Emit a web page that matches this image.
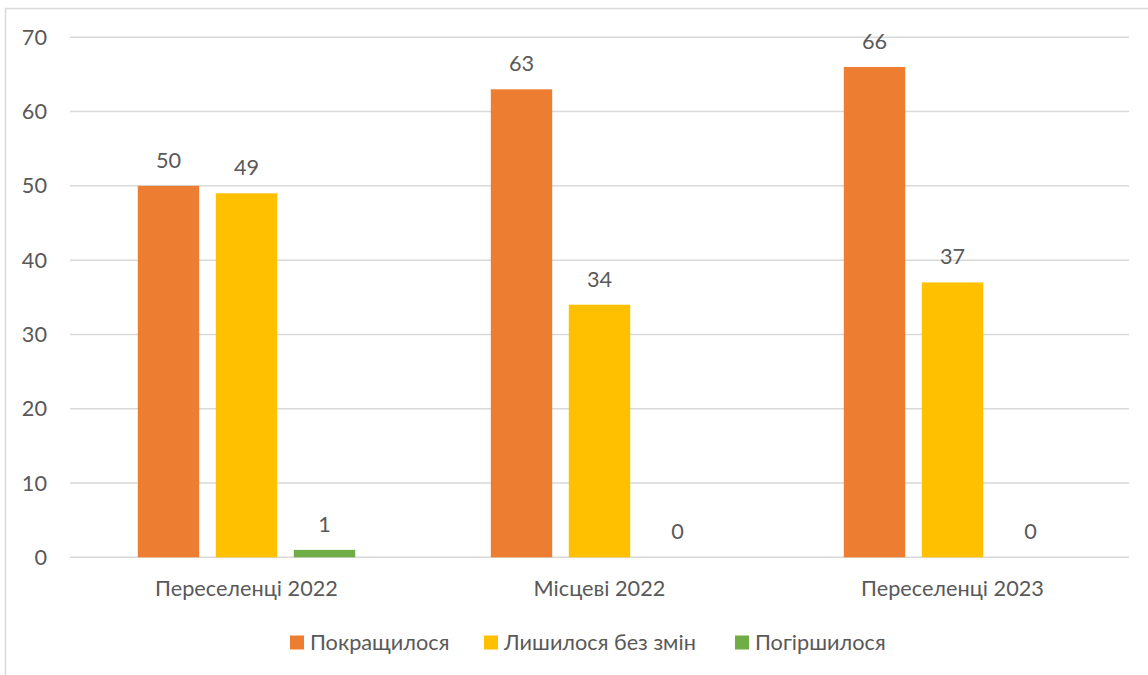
<!DOCTYPE html>
<html>
<head>
<meta charset="utf-8">
<script src="https://cdn.jsdelivr.net/npm/d3@7"></script>
<style>
  body { margin: 0; background: #fff; }
  svg text { font-family: Lato, 'Noto Sans', sans-serif; fill: #595959; }
</style>
</head>
<body>
<div id="chart"></div>
<script>
// Data
const categories = ['Переселенці 2022', 'Місцеві 2022', 'Переселенці 2023']
const seriesNames = ['Покращилося', 'Лишилося без змін', 'Погіршилося']
const improved = [50, 63, 66]
const unchanged = [49, 34, 37]
const worsened = [1, 0, 0]
const yTicks = [0, 10, 20, 30, 40, 50, 60, 70]
const colors = ['#ed7d31', '#ffc000', '#70ad47']

const seriesValues = [improved, unchanged, worsened]

// Dimensions
let dimensions = {
  width: 1148,
  height: 675,
  left: 70,
  right: 1129,
  top: 37.3,
  bottom: 557.3,
}
const fontSize = '21.7px'

const svg = d3
  .select('#chart')
  .append('svg')
  .attr('width', dimensions.width)
  .attr('height', dimensions.height)

// chart border (runs off the right and bottom of the picture)
svg
  .append('rect')
  .attr('x', 5.5)
  .attr('y', 8.5)
  .attr('width', 1150)
  .attr('height', 680)
  .attr('fill', 'none')
  .attr('stroke', '#d9d9d9')
  .attr('stroke-width', 1.5)

// Scales
const xScale = d3
  .scaleBand()
  .domain(categories)
  .range([dimensions.left, dimensions.right])

const groupWidth = 217.4
const xInner = d3
  .scaleBand()
  .domain(seriesNames)
  .range([-groupWidth / 2, groupWidth / 2])
  .paddingInner(0.213)

const yScale = d3
  .scaleLinear()
  .domain([0, 70])
  .range([dimensions.bottom, dimensions.top])

// Grid
svg
  .append('g')
  .selectAll('line')
  .data(yTicks)
  .join('line')
  .attr('x1', dimensions.left)
  .attr('x2', dimensions.right)
  .attr('y1', (d) => yScale(d))
  .attr('y2', (d) => yScale(d))
  .attr('stroke', '#d9d9d9')
  .attr('stroke-width', 1.5)

// Y labels
svg
  .append('g')
  .selectAll('text')
  .data(yTicks)
  .join('text')
  .attr('x', 47)
  .attr('y', (d) => yScale(d))
  .attr('dy', '0.35em')
  .attr('text-anchor', 'end')
  .style('font-size', fontSize)
  .text((d) => d)

// Bars
const rows = []
seriesNames.forEach((s, i) => {
  categories.forEach((c, j) => {
    rows.push({ series: s, cat: c, value: seriesValues[i][j], color: colors[i] })
  })
})

const ctr = svg.append('g')

ctr
  .selectAll('rect')
  .data(rows)
  .join('rect')
  .attr('x', (d) => xScale(d.cat) + xScale.bandwidth() / 2 + xInner(d.series))
  .attr('width', xInner.bandwidth())
  .attr('y', (d) => yScale(d.value))
  .attr('height', (d) => yScale(0) - yScale(d.value))
  .attr('fill', (d) => d.color)

// Data labels
ctr
  .selectAll('text')
  .data(rows)
  .join('text')
  .attr('x', (d) => xScale(d.cat) + xScale.bandwidth() / 2 + xInner(d.series) + xInner.bandwidth() / 2)
  .attr('y', (d) => yScale(d.value) - 18)
  .attr('text-anchor', 'middle')
  .style('font-size', fontSize)
  .text((d) => d.value)

// Category labels
svg
  .append('g')
  .selectAll('text')
  .data(categories)
  .join('text')
  .attr('x', (d) => xScale(d) + xScale.bandwidth() / 2)
  .attr('y', 596)
  .attr('text-anchor', 'middle')
  .style('font-size', fontSize)
  .text((d) => d)

// Legend
const legendX = [290, 484, 735]
const legend = svg
  .append('g')
  .selectAll('g')
  .data(seriesNames)
  .join('g')
  .attr('transform', (d, i) => `translate(${legendX[i]}, 635.5)`)

legend
  .append('rect')
  .attr('width', 14)
  .attr('height', 14)
  .attr('fill', (d, i) => colors[i])

legend
  .append('text')
  .attr('x', 20)
  .attr('y', 7)
  .attr('dy', '0.35em')
  .style('font-size', fontSize)
  .text((d) => d)
</script>
</body>
</html>
